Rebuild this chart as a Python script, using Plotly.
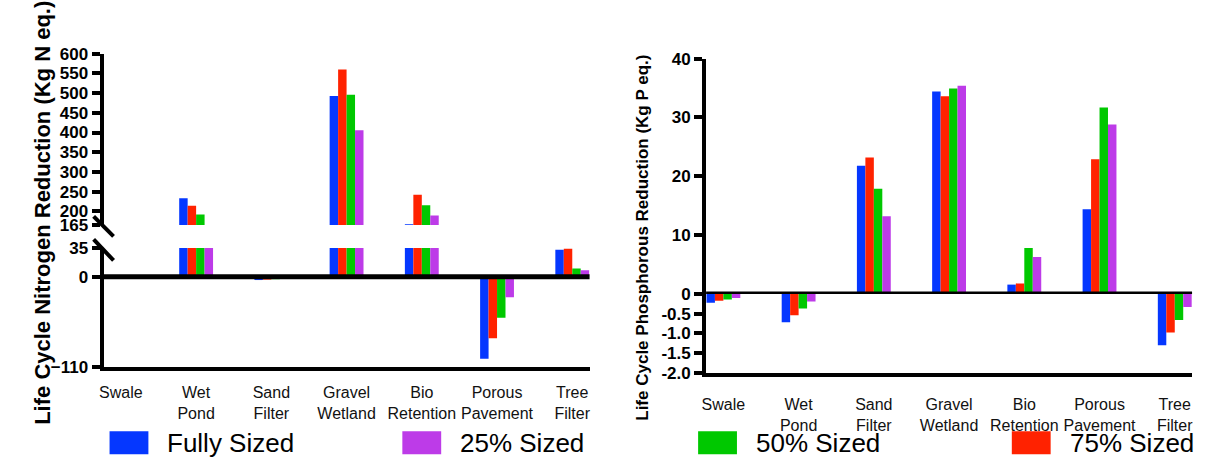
import plotly.graph_objects as go

W, H = 1208, 471

categories = ["Swale", "Wet Pond", "Sand Filter", "Gravel Wetland",
              "Bio Retention", "Porous Pavement", "Tree Filter"]
series_names = ["Fully Sized", "75% Sized", "50% Sized", "25% Sized"]
series_colors = ["#0537ff", "#ff2200", "#00c800", "#bd3be8"]

# Life Cycle Nitrogen Reduction (Kg N eq.)
nitrogen_full = [-2.5, 233, -4.0, 493, 167, -100, 33]
nitrogen_75 = [-2.0, 214, -3.5, 560, 242, -75, 34]
nitrogen_50 = [-1.8, 192, -3.0, 496, 215, -50, 10]
nitrogen_25 = [-1.5, 150, -2.5, 406, 189, -25, 8]

# Life Cycle Phosphorous Reduction (Kg P eq.)
phos_full = [-0.22, -0.72, 21.8, 34.4, 1.6, 14.4, -1.30]
phos_75 = [-0.17, -0.54, 23.2, 33.6, 1.8, 22.9, -0.98]
phos_50 = [-0.14, -0.37, 17.9, 34.9, 7.8, 31.7, -0.66]
phos_25 = [-0.10, -0.19, 13.2, 28.8 + 6.6, 6.3, 28.8, -0.33]

nitrogen = [nitrogen_full, nitrogen_75, nitrogen_50, nitrogen_25]
phos = [phos_full, phos_75, phos_50, phos_25]

n_low_ticks = [-110, 0, 35]
n_high_ticks = [165, 200, 250, 300, 350, 400, 450, 500, 550, 600]
p_high_ticks = [0, 10, 20, 30, 40]
p_low_ticks = [-0.5, -1.0, -1.5, -2.0]
p_low_text = ["-0.5", "-1.0", "-1.5", "-2.0"]

legend_order = ["Fully Sized", "25% Sized", "50% Sized", "75% Sized"]


def fx(px):
    return px / W


def fy(py):
    return 1 - py / H


fig = go.Figure()

for name, color, nv, pv in zip(series_names, series_colors, nitrogen, phos):
    for ya in ["y", "y2"]:
        fig.add_trace(go.Bar(x=categories, y=nv, name=name, marker_color=color,
                             marker_line_width=0, xaxis="x", yaxis=ya,
                             showlegend=False, offsetgroup=name))
    for ya in ["y3", "y4"]:
        fig.add_trace(go.Bar(x=categories, y=pv, name=name, marker_color=color,
                             marker_line_width=0, xaxis="x2", yaxis=ya,
                             showlegend=False, offsetgroup=name))

tickfont = dict(family="Liberation Sans, Arial", size=17, color="black", weight="bold")
catfont = dict(family="Liberation Sans, Arial", size=16, color="#111")
ticktext = [c.replace(" ", "<br>") for c in categories]

yax_common = dict(showline=True, linecolor="black", linewidth=4, ticks="outside",
                  ticklen=8, tickwidth=4, tickcolor="black", showgrid=False,
                  zeroline=False, tickfont=tickfont, fixedrange=True)

xax_common = dict(type="category", showline=True, linecolor="black", linewidth=4,
                  ticks="", showgrid=False, zeroline=False, tickfont=catfont,
                  tickvals=categories, ticktext=ticktext, range=[-0.23, 6.23])

fig.update_layout(
    width=W, height=H,
    margin=dict(l=0, r=0, t=0, b=0),
    paper_bgcolor="white", plot_bgcolor="white",
    barmode="group", bargap=0.55, bargroupgap=0,
    showlegend=False,
    xaxis=dict(domain=[fx(100), fx(588)], anchor="y", ticklabelstandoff=8, **xax_common),
    yaxis=dict(domain=[fy(373), fy(249.1)], anchor="x", range=[-110, 35],
               tickvals=n_low_ticks, **yax_common),
    yaxis2=dict(domain=[fy(225.1), fy(46.7)], anchor="x", range=[165, 600],
                tickvals=n_high_ticks, **yax_common),
    xaxis2=dict(domain=[fx(705), fx(1193)], anchor="y4", ticklabelstandoff=14, **xax_common),
    yaxis3=dict(domain=[fy(297), fy(51.7)], anchor="x2", range=[0, 40],
                tickvals=p_high_ticks, **yax_common),
    yaxis4=dict(domain=[fy(379), fy(297)], anchor="x2", range=[-2, 0],
                tickvals=p_low_ticks, ticktext=p_low_text, **yax_common),
)

shapes = []
# zero lines
shapes.append(dict(type="line", xref="x domain", yref="y", x0=0, x1=1, y0=0, y1=0,
                   line=dict(color="black", width=5)))
shapes.append(dict(type="line", xref="x2 domain", yref="y3", x0=0, x1=1, y0=0, y1=0,
                   line=dict(color="black", width=5)))
# axis break slashes
for (x0, y0, x1, y1) in [(90, 216, 110, 237), (90, 240, 110, 262)]:
    shapes.append(dict(type="line", xref="paper", yref="paper",
                       x0=fx(x0), y0=fy(y0), x1=fx(x1), y1=fy(y1),
                       line=dict(color="black", width=4)))

annotations = [
    dict(text="<b>Life Cycle Nitrogen Reduction (Kg N eq.)</b>", textangle=-90,
         xref="paper", yref="paper", x=fx(24), y=fy(212), showarrow=False,
         font=dict(family="Liberation Sans, Arial", size=22, color="black")),
    dict(text="<b>Life Cycle Phosphorous Reduction (Kg P eq.)</b>", textangle=-90,
         xref="paper", yref="paper", x=fx(641), y=fy(238), showarrow=False,
         font=dict(family="Liberation Sans, Arial", size=17, color="black")),
]

color_of = dict(zip(series_names, series_colors))
legend_x = [106, 400, 697, 1012]
for name, lx in zip(legend_order, legend_x):
    shapes.append(dict(type="rect", xref="paper", yref="paper",
                       x0=fx(lx), x1=fx(lx + 39), y0=fy(464), y1=fy(440),
                       fillcolor=color_of[name], line=dict(width=0)))
    annotations.append(dict(text=name, xref="paper", yref="paper", x=fx(lx + 56),
                            y=fy(452), xanchor="left", yanchor="middle", showarrow=False,
                            font=dict(family="Liberation Sans, Arial", size=26, color="black")))

fig.update_layout(shapes=shapes, annotations=annotations)

fig.write_html("out.html")
